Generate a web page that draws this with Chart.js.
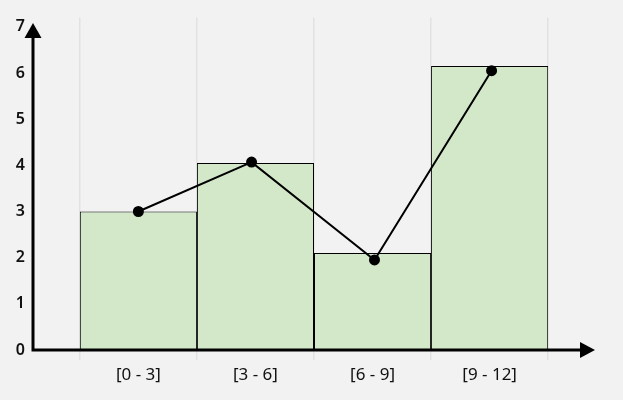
<!DOCTYPE html>
<html>
<head>
<meta charset="utf-8">
<script src="https://cdn.jsdelivr.net/npm/chart.js@4"></script>
<style>
  html, body { margin: 0; padding: 0; background: #f2f2f2; }
  #wrap { width: 623px; height: 400px; }
</style>
</head>
<body>
<div id="wrap"><canvas id="histo" width="623" height="400"></canvas></div>
<script>
// class intervals and heights
const edges = [0, 3, 6, 9, 12];
const classLabels = ['[0 - 3]', '[3 - 6]', '[6 - 9]', '[9 - 12]'];
const barHeights = [3, 4.05, 2.1, 6.15];
// frequency polygon points (x position, value)
const lineX = [1.5, 4.4, 7.55, 10.55];
const lineY = [3, 4.07, 1.95, 6.05];
const yTicks = [0, 1, 2, 3, 4, 5, 6, 7];

const mids = edges.slice(0, -1).map((e, i) => (e + edges[i + 1]) / 2);

// axis lines with arrow heads
const arrowAxes = {
  id: 'arrowAxes',
  afterDatasetsDraw(chart) {
    const { ctx, chartArea } = chart;
    const x0 = chartArea.left, y0 = chart.scales.y.getPixelForValue(0);
    ctx.save();
    ctx.strokeStyle = '#000';
    ctx.fillStyle = '#000';
    ctx.lineWidth = 3;
    ctx.beginPath();
    ctx.moveTo(x0, y0 + 1.5);
    ctx.lineTo(x0, 36);
    ctx.moveTo(x0 - 1.5, y0);
    ctx.lineTo(582, y0);
    ctx.stroke();
    // up arrow
    ctx.beginPath();
    ctx.moveTo(x0, 23);
    ctx.lineTo(x0 - 8.5, 38);
    ctx.lineTo(x0 + 8.5, 38);
    ctx.closePath();
    ctx.fill();
    // right arrow
    ctx.beginPath();
    ctx.moveTo(595, y0);
    ctx.lineTo(580, y0 - 8);
    ctx.lineTo(580, y0 + 8);
    ctx.closePath();
    ctx.fill();
    ctx.restore();
  }
};

new Chart(document.getElementById('histo'), {
  data: {
    datasets: [
      {
        type: 'line',
        data: lineX.map((x, i) => ({ x: x, y: lineY[i] })),
        borderColor: '#000',
        borderWidth: 2,
        pointRadius: 4.5,
        pointBackgroundColor: '#000',
        pointBorderColor: '#000',
        tension: 0,
        order: 0
      },
      {
        type: 'bar',
        data: mids.map((m, i) => ({ x: m, y: barHeights[i] })),
        backgroundColor: '#d3e8c9',
        borderColor: '#000',
        borderWidth: 1,
        // tick spacing is half a class width, so double it to fill the class
        barPercentage: 2,
        categoryPercentage: 1,
        order: 1
      }
    ]
  },
  options: {
    responsive: false,
    animation: false,
    layout: { padding: { top: 16, right: 28, left: 0, bottom: 0 } },
    plugins: { legend: { display: false }, tooltip: { enabled: false } },
    scales: {
      x: {
        type: 'linear',
        offset: false,
        min: -1.2,
        max: 13.2,
        afterBuildTicks: (scale) => {
          const t = [];
          edges.forEach((e, i) => {
            t.push({ value: e });
            if (i < mids.length) t.push({ value: mids[i] });
          });
          scale.ticks = t;
        },
        afterFit: (scale) => { scale.height = 50; },
        grid: {
          offset: false,
          color: (c) => (c.tick && edges.includes(c.tick.value)) ? '#e2e2e2' : 'rgba(0,0,0,0)',
          lineWidth: 1.5,
          drawTicks: true,
          tickLength: 10
        },
        border: { display: false },
        ticks: {
          autoSkip: false,
          maxRotation: 0,
          padding: 5,
          color: '#111',
          font: { family: 'Noto Sans', size: 17 },
          callback: (v) => {
            const i = mids.indexOf(v);
            return i >= 0 ? classLabels[i] : '';
          }
        }
      },
      y: {
        type: 'linear',
        min: 0,
        max: 7.2,
        afterBuildTicks: (scale) => { scale.ticks = yTicks.map(v => ({ value: v })); },
        afterFit: (scale) => { scale.width = 33; },
        grid: { display: false, drawTicks: false },
        border: { display: false },
        ticks: {
          padding: 8,
          color: '#111',
          font: { family: 'Noto Sans', size: 16, weight: '600' }
        }
      }
    }
  },
  plugins: [arrowAxes]
});
</script>
</body>
</html>
